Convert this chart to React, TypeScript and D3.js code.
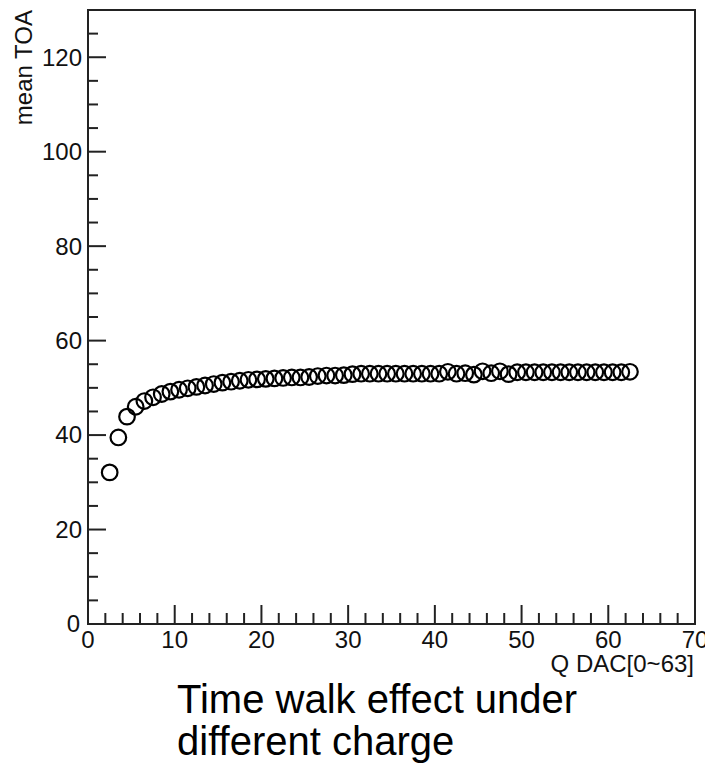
import React from "react";
import * as d3 from "d3";

const qdac: number[] = [
  2.5, 3.5, 4.5, 5.5, 6.5, 7.5, 8.5, 9.5, 10.5, 11.5, 12.5, 13.5, 14.5, 15.5, 16.5, 17.5, 18.5, 19.5, 20.5, 21.5,
  22.5, 23.5, 24.5, 25.5, 26.5, 27.5, 28.5, 29.5, 30.5, 31.5, 32.5, 33.5, 34.5, 35.5, 36.5, 37.5, 38.5, 39.5, 40.5, 41.5,
  42.5, 43.5, 44.5, 45.5, 46.5, 47.5, 48.5, 49.5, 50.5, 51.5, 52.5, 53.5, 54.5, 55.5, 56.5, 57.5, 58.5, 59.5, 60.5, 61.5, 62.5,
];
const meanTOA: number[] = [
  32.1, 39.5, 43.9, 46.0, 47.2, 48.0, 48.7, 49.2, 49.6, 49.9, 50.2, 50.5, 50.8, 51.1, 51.3, 51.5, 51.7, 51.8, 51.9, 52.0,
  52.1, 52.2, 52.2, 52.3, 52.5, 52.6, 52.6, 52.7, 52.9, 53.0, 53.0, 53.0, 53.0, 53.0, 53.0, 53.0, 53.0, 53.0, 53.0, 53.4,
  53.0, 53.1, 52.8, 53.5, 53.1, 53.5, 52.9, 53.3, 53.3, 53.3, 53.3, 53.3, 53.3, 53.3, 53.3, 53.3, 53.3, 53.3, 53.3, 53.3, 53.4,
];
const xMajorTicks: number[] = [0, 10, 20, 30, 40, 50, 60, 70];
const yMajorTicks: number[] = [0, 20, 40, 60, 80, 100, 120];
const xTitle = "Q DAC[0~63]";
const yTitle = "mean TOA";
const captionLines: string[] = ["Time walk effect under", "different charge"];

const W = 705;
const H = 763;
const L = 88, R = 695, T = 10, B = 624;
const FONT = "'Liberation Sans', Arial, Helvetica, sans-serif";
const AX = "#222";

export default function App() {
  const x = d3.scaleLinear().domain([0, 70]).range([L, R]);
  const y = d3.scaleLinear().domain([0, 130]).range([B, T]);
  const xMinor = d3.range(0, 70.001, 2);
  const yMinor = d3.range(0, 130, 5);

  return (
    <svg
      width={W}
      height={H}
      style={{ position: "absolute", left: 0, top: 0, background: "#fff" }}
      fontFamily={FONT}
    >
      <rect x={0} y={0} width={W} height={H} fill="#fff" />
      {xMinor.map((v) => {
        const major = v % 10 === 0;
        return (
          <line
            key={"xt" + v}
            x1={x(v)}
            x2={x(v)}
            y1={B}
            y2={B - (major ? 19 : 11)}
            stroke={AX}
            strokeWidth={2}
          />
        );
      })}
      {yMinor.map((v) => {
        const major = v % 20 === 0;
        return (
          <line
            key={"yt" + v}
            x1={L}
            x2={L + (major ? 18 : 10)}
            y1={y(v)}
            y2={y(v)}
            stroke={AX}
            strokeWidth={2}
          />
        );
      })}
      <rect x={L} y={T} width={R - L} height={B - T} fill="none" stroke={AX} strokeWidth={2} />
      {xMajorTicks.map((v) => (
        <text key={"xl" + v} x={x(v)} y={648} textAnchor="middle" fontSize={24} fill="#111">
          {v}
        </text>
      ))}
      {yMajorTicks.map((v) => (
        <text
          key={"yl" + v}
          x={v === 0 ? 80 : 82}
          y={y(v)}
          dy="0.35em"
          textAnchor="end"
          fontSize={24}
          fill="#111"
        >
          {v}
        </text>
      ))}
      <text x={694} y={672} textAnchor="end" fontSize={24} fill="#111">
        {xTitle}
      </text>
      <text
        transform={`translate(32, ${T}) rotate(-90)`}
        textAnchor="end"
        fontSize={24}
        fill="#111"
      >
        {yTitle}
      </text>
      {qdac.map((q, i) => (
        <circle
          key={"p" + i}
          cx={x(q)}
          cy={y(meanTOA[i])}
          r={7.8}
          fill="none"
          stroke="#000"
          strokeWidth={2.2}
        />
      ))}
      {captionLines.map((s, i) => (
        <text key={"c" + i} x={177} y={713 + i * 42} fontSize={40} fill="#000">
          {s}
        </text>
      ))}
    </svg>
  );
}
